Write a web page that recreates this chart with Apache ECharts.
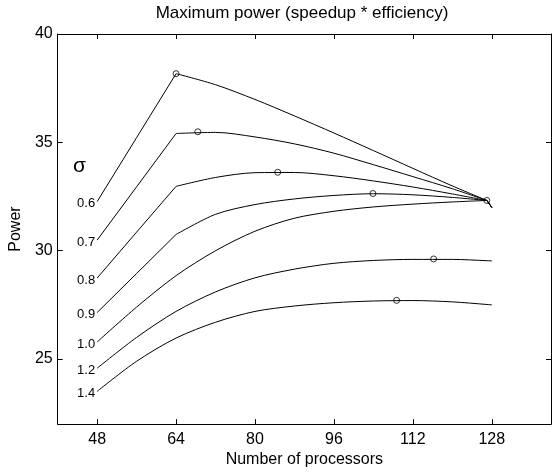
<!DOCTYPE html>
<html>
<head>
<meta charset="utf-8">
<script src="https://cdn.jsdelivr.net/npm/echarts@6/dist/echarts.min.js"></script>
<style>html,body{margin:0;padding:0;background:#fff;}#c{width:558px;height:473px;}</style>
</head>
<body>
<div id="c"></div>
<script>
const procs = [48, 56, 64, 72, 80, 88, 96, 104, 112, 120, 127, 128];
const sigmaNames = ['0.6', '0.7', '0.8', '0.9', '1.0', '1.2', '1.4'];
const p06 = [32.27, 35.22, 38.17, 37.66, 36.98, 36.22, 35.43, 34.62, 33.8, 32.99, 32.32, 32.0];
const p07 = [30.49, 32.95, 35.41, 35.46, 35.25, 34.93, 34.5, 33.97, 33.42, 32.86, 32.32, 32.0];
const p08 = [28.74, 30.86, 32.97, 33.38, 33.6, 33.61, 33.46, 33.22, 32.94, 32.62, 32.32, 32.0];
const p09 = [27.15, 28.95, 30.75, 31.68, 32.13, 32.39, 32.55, 32.63, 32.58, 32.46, 32.32, 32.0];
const p10 = [25.79, 27.4, 28.85, 30.0, 30.9, 31.5, 31.82, 32.02, 32.15, 32.25, 32.32, 32.0];
const p12 = [24.58, 26.0, 27.2, 28.1, 28.75, 29.15, 29.42, 29.55, 29.6, 29.6, 29.54, 29.53];
const p14 = [23.51, 24.9, 25.97, 26.7, 27.2, 27.45, 27.6, 27.68, 27.7, 27.64, 27.52, 27.5];
const maxX = [64, 68.4, 84.6, 103.9, 127, 116.2, 108.7];
const maxY = [38.17, 35.49, 33.62, 32.64, 32.32, 29.62, 27.71];
const xTicks = [48, 64, 80, 96, 112, 128];
const yTicks = [25, 30, 35, 40];

const FONT = 'Liberation Sans, Arial, Helvetica, sans-serif';
const sets = [p06, p07, p08, p09, p10, p12, p14];
// segments [startIndex, endIndex, smooth]
const kinked = [[0, 2, false], [2, 10, 0.3], [10, 11, false]];
const smoothTail = [[0, 10, 0.3], [10, 11, false]];
const smoothAll = [[0, 11, 0.3]];
const segPlan = [kinked, kinked, kinked, kinked, smoothTail, smoothAll, smoothAll];

const series = [];
sets.forEach((arr, i) => {
  segPlan[i].forEach(([a, b, sm]) => {
    const data = [];
    for (let j = a; j <= b; j++) {
      if (j === 0) {
        data.push({
          value: [procs[j], arr[j]],
          label: { show: true, formatter: sigmaNames[i], position: 'left', distance: 2, offset: [0, 2],
            color: '#000', fontSize: 13, fontFamily: FONT }
        });
      } else {
        data.push([procs[j], arr[j]]);
      }
    }
    series.push({
      type: 'line',
      silent: true,
      symbol: 'circle',
      symbolSize: 0,
      showSymbol: true,
      smooth: sm,
      lineStyle: { color: '#000', width: 1 },
      itemStyle: { color: '#000' },
      data: data
    });
  });
});
series.push({
  type: 'scatter',
  silent: true,
  symbol: 'circle',
  symbolSize: 6,
  itemStyle: { color: 'rgba(0,0,0,0)', borderColor: '#000', borderWidth: 1 },
  data: maxX.map((x, i) => [x, maxY[i]]),
  z: 5
});

const axisCommon = {
  type: 'value',
  axisLine: { show: true, onZero: false, lineStyle: { color: '#000', width: 1 } },
  splitLine: { show: false }
};

const chart = echarts.init(document.getElementById('c'), null, { renderer: 'canvas' });
chart.setOption({
  animation: false,
  backgroundColor: '#fff',
  grid: { left: 53, right: 7, top: 34, bottom: 44, show: false },
  xAxis: [
    Object.assign({}, axisCommon, {
      min: 40, max: 140, position: 'bottom',
      axisTick: { show: true, inside: true, length: 5, customValues: xTicks, lineStyle: { color: '#000' } },
      axisLabel: { show: true, customValues: xTicks, color: '#000', fontSize: 16, margin: 7, fontFamily: FONT },
      name: 'Number of processors', nameLocation: 'middle', nameGap: 25,
      nameTextStyle: { color: '#000', fontSize: 16, fontFamily: FONT }
    }),
    Object.assign({}, axisCommon, {
      min: 40, max: 140, position: 'top',
      axisTick: { show: true, inside: true, length: 5, customValues: xTicks, lineStyle: { color: '#000' } },
      axisLabel: { show: false }
    })
  ],
  yAxis: [
    Object.assign({}, axisCommon, {
      min: 22, max: 40, position: 'left',
      axisTick: { show: true, inside: true, length: 5, customValues: yTicks, lineStyle: { color: '#000' } },
      axisLabel: { show: true, customValues: yTicks, color: '#000', fontSize: 16, margin: 5, fontFamily: FONT },
      name: 'Power', nameLocation: 'middle', nameGap: 28,
      nameTextStyle: { color: '#000', fontSize: 16, fontFamily: FONT }
    }),
    Object.assign({}, axisCommon, {
      min: 22, max: 40, position: 'right',
      axisTick: { show: true, inside: true, length: 5, customValues: yTicks, lineStyle: { color: '#000' } },
      axisLabel: { show: false }
    })
  ],
  graphic: [
    { type: 'text', x: 302, y: 5, silent: true,
      style: { text: 'Maximum power (speedup * efficiency)', fill: '#000', font: '17px ' + FONT, textAlign: 'center', textVerticalAlign: 'top' } },
    { type: 'text', x: 73, y: 166, silent: true,
      style: { text: 'σ', fill: '#000', font: '21px ' + FONT, textAlign: 'left', textVerticalAlign: 'middle' } }
  ],
  series: series
});
</script>
</body>
</html>
